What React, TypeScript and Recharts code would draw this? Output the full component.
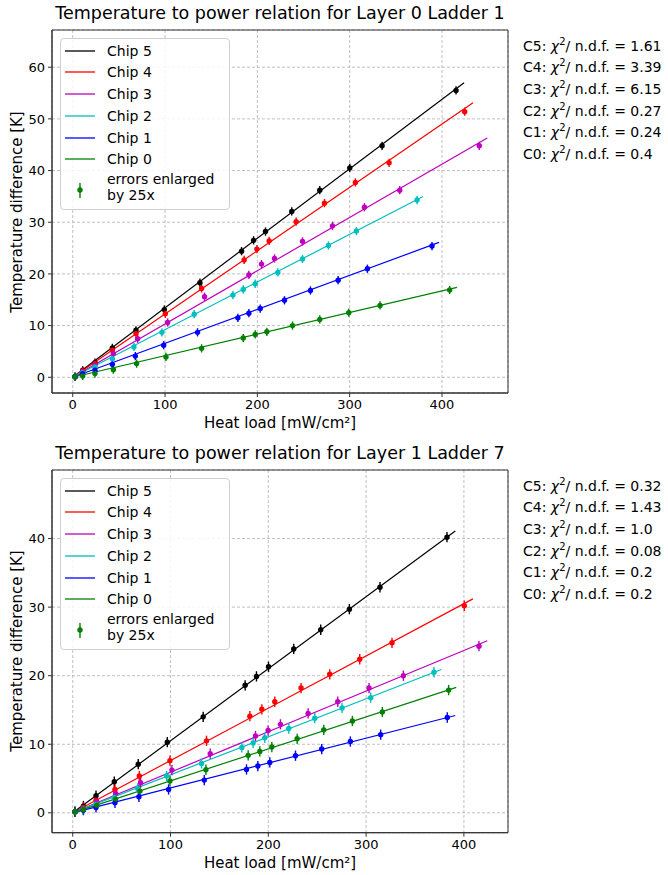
import React from "react";
import {
  ComposedChart, Scatter, ErrorBar, XAxis, YAxis, CartesianGrid, ReferenceLine, ReferenceArea,
} from "recharts";

const FONT = "'DejaVu Sans', sans-serif";
const CHIPS = ["Chip 5", "Chip 4", "Chip 3", "Chip 2", "Chip 1", "Chip 0"];
const SHORT = ["C5", "C4", "C3", "C2", "C1", "C0"];
const COLORS = ["#000000", "#ff0000", "#bf00bf", "#00bfbf", "#0000ff", "#008000"];

// Layer 0 Ladder 1
const L0_C5_X = [2.5, 10.8, 24.1, 42.9, 68.5, 99.2, 137.8, 182.9, 195.9, 208.8, 237.3, 267.6, 300.1, 335.1, 415.2];
const L0_C5_Y = [0.1, 1.35, 2.84, 5.68, 9.1, 13.1, 18.3, 24.4, 26.5, 28.2, 32.1, 36.2, 40.5, 44.8, 55.5];
const L0_C4_X = [2.5, 10.8, 24.1, 42.9, 68.5, 100.3, 139.6, 185.7, 199.5, 212.8, 242.0, 272.7, 306.2, 342.7, 424.6];
const L0_C4_Y = [0.1, 1.23, 2.65, 5.23, 8.45, 12.3, 17.2, 22.7, 24.8, 26.4, 30.1, 33.7, 37.7, 41.5, 51.4];
const L0_C3_X = [2.5, 10.8, 24.1, 44.0, 70.3, 102.8, 142.8, 190.8, 204.5, 218.6, 248.9, 281.4, 316.0, 354.2, 440.4];
const L0_C3_Y = [0.1, 1.03, 2.32, 4.58, 7.48, 10.6, 15.6, 19.8, 21.9, 23.0, 26.3, 29.3, 32.9, 36.2, 44.8];
const L0_C2_X = [2.5, 10.8, 24.1, 42.9, 66.3, 96.6, 131.6, 173.5, 184.7, 197.7, 222.2, 248.9, 277.0, 307.3, 373.0];
const L0_C2_Y = [0.1, 0.9, 2.0, 3.6, 5.87, 8.7, 12.2, 15.9, 17.0, 18.1, 20.3, 22.9, 25.5, 28.3, 34.3];
const L0_C1_X = [2.5, 10.8, 24.1, 42.9, 67.8, 98.5, 135.2, 178.9, 190.8, 203.1, 229.4, 257.5, 287.5, 319.2, 389.2];
const L0_C1_Y = [0.1, 0.71, 1.35, 2.5, 4.1, 6.2, 8.7, 11.5, 12.4, 13.3, 14.9, 16.8, 18.8, 21.0, 25.4];
const L0_C0_X = [2.5, 10.8, 24.1, 44.0, 69.2, 101.0, 139.6, 184.7, 197.7, 210.3, 238.1, 267.6, 299.0, 332.9, 408.3];
const L0_C0_Y = [0.1, 0.26, 0.71, 1.48, 2.65, 3.93, 5.6, 7.6, 8.3, 8.8, 10.0, 11.2, 12.5, 13.9, 16.9];
const L0_ERR = [0.8, 0.8, 0.8, 0.8, 0.8, 0.8];
const L0_FIT_X = [423.9, 433.6, 449.1, 379.5, 396.8, 416.3];
const L0_FIT_Y = [57.0, 53.1, 46.3, 35.0, 26.1, 17.4];
const L0_CHI = ["1.61", "3.39", "6.15", "0.27", "0.24", "0.4"];

// Layer 1 Ladder 7
const L1_C5_X = [2.35, 10.9, 23.8, 42.5, 67.0, 96.7, 133.4, 176.3, 187.9, 200.2, 226.0, 253.6, 282.9, 314.2, 382.7];
const L1_C5_Y = [0.15, 0.98, 2.49, 4.53, 7.1, 10.3, 14.0, 18.6, 19.9, 21.3, 23.9, 26.7, 29.7, 32.9, 40.2];
const L1_C4_X = [2.35, 10.9, 23.8, 43.2, 68.1, 99.4, 136.8, 181.1, 193.4, 206.6, 233.5, 262.8, 293.5, 326.5, 400.4];
const L1_C4_Y = [0.15, 0.78, 1.85, 3.41, 5.36, 7.6, 10.5, 14.1, 15.1, 16.2, 18.2, 20.2, 22.4, 24.8, 30.2];
const L1_C3_X = [2.35, 10.9, 24.5, 43.9, 69.4, 101.4, 140.6, 186.9, 199.8, 212.4, 240.7, 271.0, 303.0, 338.1, 415.4];
const L1_C3_Y = [0.15, 0.64, 1.61, 2.83, 4.38, 6.23, 8.62, 11.2, 12.0, 12.9, 14.5, 16.2, 18.2, 20.0, 24.3];
const L1_C2_X = [2.35, 10.9, 23.8, 42.5, 66.4, 96.0, 131.7, 172.9, 184.5, 196.4, 220.9, 247.5, 275.4, 304.7, 369.4];
const L1_C2_Y = [0.15, 0.54, 1.27, 2.24, 3.56, 5.36, 7.21, 9.54, 10.2, 10.95, 12.3, 13.8, 15.3, 16.8, 20.5];
const L1_C1_X = [2.35, 10.9, 23.8, 43.2, 67.7, 98.0, 134.5, 177.7, 189.3, 201.5, 227.8, 254.6, 283.9, 314.9, 383.0];
const L1_C1_Y = [0.15, 0.39, 0.78, 1.46, 2.34, 3.41, 4.77, 6.33, 6.82, 7.35, 8.33, 9.3, 10.4, 11.4, 13.9];
const L1_C0_X = [2.35, 10.9, 24.5, 43.9, 68.7, 99.4, 136.2, 179.4, 191.3, 203.6, 229.5, 256.7, 286.0, 316.6, 384.4];
const L1_C0_Y = [0.15, 0.49, 1.12, 2.0, 3.17, 4.63, 6.28, 8.38, 8.96, 9.59, 10.8, 12.1, 13.4, 14.7, 17.9];
const L1_ERR = [0.75, 0.75, 0.75, 0.75, 0.75, 0.75];
const L1_FIT_X = [391.2, 409.2, 423.9, 376.9, 391.2, 392.2];
const L1_FIT_Y = [41.1, 31.2, 25.1, 20.9, 14.2, 18.3];
const L1_CHI = ["0.32", "1.43", "1.0", "0.08", "0.2", "0.2"];

const X_TICKS = [0, 100, 200, 300, 400];
const L0_Y_TICKS = [0, 10, 20, 30, 40, 50, 60];
const L1_Y_TICKS = [0, 10, 20, 30, 40];

type Series = { name: string; color: string; points: { x: number; y: number; err: number }[]; fit: [number, number] };

function build(xs: number[][], ys: number[][], errs: number[], fx: number[], fy: number[]): Series[] {
  return CHIPS.map((name, i) => ({
    name,
    color: COLORS[i],
    points: xs[i].map((x, j) => ({ x, y: ys[i][j], err: errs[i] })),
    fit: [fx[i], fy[i]],
  }));
}

const L0 = build(
  [L0_C5_X, L0_C4_X, L0_C3_X, L0_C2_X, L0_C1_X, L0_C0_X],
  [L0_C5_Y, L0_C4_Y, L0_C3_Y, L0_C2_Y, L0_C1_Y, L0_C0_Y],
  L0_ERR, L0_FIT_X, L0_FIT_Y,
);
const L1 = build(
  [L1_C5_X, L1_C4_X, L1_C3_X, L1_C2_X, L1_C1_X, L1_C0_X],
  [L1_C5_Y, L1_C4_Y, L1_C3_Y, L1_C2_Y, L1_C1_Y, L1_C0_Y],
  L1_ERR, L1_FIT_X, L1_FIT_Y,
);

const tickStyle = { fill: "#000", fontSize: 13, fontFamily: FONT };

function Panel({ top, height, series, xDomain, yDomain, yTicks, title, chi, marginBottom }: {
  top: number; height: number; series: Series[]; xDomain: [number, number]; yDomain: [number, number];
  yTicks: number[]; title: string; chi: string[]; marginBottom: number;
}) {
  const plotTop = top + 30;
  const plotBottom = top + height - marginBottom - 30;
  return (
    <>
      <div style={{ position: "absolute", left: 280, top: top + 13, transform: "translate(-50%,-50%)", whiteSpace: "nowrap", fontSize: 17.5 }}>
        {title}
      </div>
      <div style={{ position: "absolute", left: 0, top }}>
        <ComposedChart width={668} height={height} margin={{ top: 30, right: 160, left: 7, bottom: marginBottom }}>
          <CartesianGrid stroke="#b0b0b0" strokeDasharray="3 2" strokeWidth={0.8} />
          <XAxis type="number" dataKey="x" domain={xDomain} ticks={X_TICKS} allowDataOverflow height={30}
            tick={tickStyle} tickSize={4} tickMargin={3} stroke="#333" />
          <YAxis type="number" dataKey="y" domain={yDomain} ticks={yTicks} allowDataOverflow width={45}
            tick={tickStyle} tickSize={4} tickMargin={3} stroke="#333" />
          <ReferenceArea x1={xDomain[0]} x2={xDomain[1]} y1={yDomain[0]} y2={yDomain[1]} fill="none" stroke="#333" strokeWidth={1} ifOverflow="visible" />
          {series.map((s) => (
            <ReferenceLine key={"fit" + s.name} segment={[{ x: 0, y: 0 }, { x: s.fit[0], y: s.fit[1] }]}
              stroke={s.color} strokeWidth={1.2} ifOverflow="visible" />
          ))}
          {series.map((s) => (
            <Scatter key={s.name} name={s.name} data={s.points} fill={s.color} isAnimationActive={false}
              shape={(p: any) => <circle cx={p.cx} cy={p.cy} r={2.7} fill={s.color} />}>
              <ErrorBar dataKey="err" direction="y" width={0} stroke={s.color} strokeWidth={1.4} />
            </Scatter>
          ))}
        </ComposedChart>
      </div>
      {/* legend */}
      <div style={{ position: "absolute", left: 60, top: plotTop + 8, width: 168, height: 170, border: "1px solid #d0d0d0", borderRadius: 4, background: "rgba(255,255,255,0.85)", fontSize: 14 }}>
        {series.map((s, i) => (
          <div key={s.name} style={{ position: "absolute", left: 0, top: 1 + i * 21.67, height: 21.67, display: "flex", alignItems: "center" }}>
            <svg width={34} height={4} style={{ marginLeft: 4 }}>
              <line x1={0} y1={2} x2={30} y2={2} stroke={s.color} strokeWidth={1.3} />
            </svg>
            <span style={{ marginLeft: 8 }}>{s.name}</span>
          </div>
        ))}
        <div style={{ position: "absolute", left: 46, top: 132, lineHeight: "16px" }}>errors enlarged<br />by 25x</div>
        <svg style={{ position: "absolute", left: 14, top: 142 }} width={10} height={20}>
          <line x1={5} y1={2} x2={5} y2={17} stroke="#008000" strokeWidth={1.4} />
          <circle cx={5} cy={9} r={2.7} fill="#008000" />
        </svg>
      </div>
      {/* chi2 */}
      <div style={{ position: "absolute", left: 523, top: plotTop + 5.8, fontSize: 14, lineHeight: "21.67px", whiteSpace: "nowrap" }}>
        {chi.map((c, i) => (
          <div key={i}>{SHORT[i]}: <i>χ</i><sup style={{ fontSize: 10, lineHeight: 0 }}>2</sup>/ n.d.f. = {c}</div>
        ))}
      </div>
      <div style={{ position: "absolute", left: 280, top: plotBottom + 30, transform: "translate(-50%,-50%)", whiteSpace: "nowrap", fontSize: 15 }}>
        Heat load [mW/cm²]
      </div>
      <div style={{ position: "absolute", left: 17, top: (plotTop + plotBottom) / 2, transform: "translate(-50%,-50%) rotate(-90deg)", whiteSpace: "nowrap", fontSize: 15 }}>
        Temperature difference [K]
      </div>
    </>
  );
}

export default function App() {
  return (
    <div style={{ position: "absolute", left: 0, top: 0, width: 668, height: 875, background: "#fff", fontFamily: FONT, color: "#000" }}>
      <Panel top={0} height={440} series={L0} xDomain={[-22.45, 471.5]} yDomain={[-3.04, 67.2]} yTicks={L0_Y_TICKS}
        title="Temperature to power relation for Layer 0 Ladder 1" chi={L0_CHI} marginBottom={17} />
      <Panel top={440} height={435} series={L1} xDomain={[-21.2, 445.1]} yDomain={[-2.9, 50.0]} yTicks={L1_Y_TICKS}
        title="Temperature to power relation for Layer 1 Ladder 7" chi={L1_CHI} marginBottom={12.3} />
    </div>
  );
}
